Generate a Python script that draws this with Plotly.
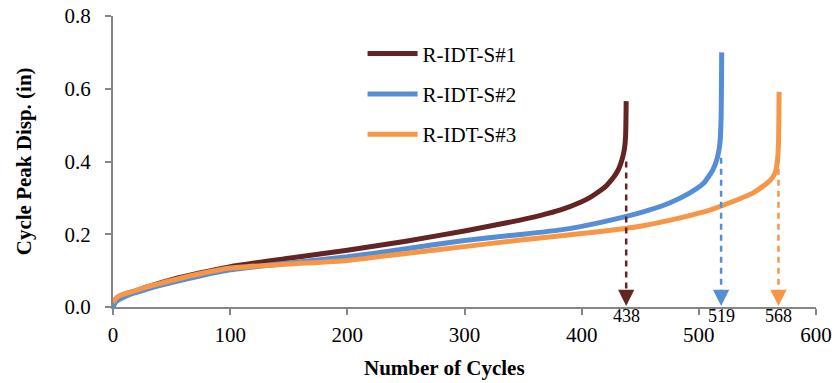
import plotly.graph_objects as go

# ---- data ----
names = ["R-IDT-S#1", "R-IDT-S#2", "R-IDT-S#3"]
colors = ["#632523", "#558ED5", "#F79646"]

s1_x = [0, 2, 5, 10, 15, 20, 30, 50, 75, 100, 150, 200, 250, 300, 340, 365, 382, 399, 408, 416, 421, 424, 428, 431, 433, 435, 436.5, 437.5, 438]
s1_y = [0.005, 0.02, 0.028, 0.035, 0.04, 0.045, 0.056, 0.075, 0.094, 0.111, 0.134, 0.156, 0.181, 0.209, 0.234, 0.252, 0.267, 0.288, 0.303, 0.320, 0.333, 0.344, 0.360, 0.376, 0.391, 0.412, 0.435, 0.470, 0.566]

s2_x = [0, 2, 5, 10, 15, 20, 30, 50, 75, 100, 150, 200, 250, 300, 350, 382, 399, 433, 458, 475, 492, 504, 512, 516, 518, 519, 519.5]
s2_y = [0.0, 0.012, 0.02, 0.028, 0.035, 0.04, 0.05, 0.067, 0.086, 0.102, 0.121, 0.138, 0.160, 0.183, 0.200, 0.212, 0.221, 0.245, 0.267, 0.286, 0.313, 0.340, 0.377, 0.413, 0.450, 0.520, 0.700]

s3_x = [0, 2, 5, 10, 15, 20, 30, 50, 75, 100, 150, 200, 250, 300, 350, 400, 425, 450, 484, 510, 529, 546, 558, 562, 565, 567, 568, 568.5]
s3_y = [0.012, 0.022, 0.03, 0.036, 0.041, 0.046, 0.056, 0.073, 0.092, 0.107, 0.118, 0.128, 0.147, 0.166, 0.185, 0.202, 0.211, 0.222, 0.245, 0.267, 0.290, 0.313, 0.340, 0.352, 0.368, 0.400, 0.450, 0.592]

fail_cycles = [438, 519, 568]
arrow_top = [0.40, 0.41, 0.41]

x_ticks = [0, 100, 200, 300, 400, 500, 600]
y_ticks = [0.0, 0.2, 0.4, 0.6, 0.8]
y_tick_text = ["0.0", "0.2", "0.4", "0.6", "0.8"]

serif = "Liberation Serif"
axis_col = "#868686"

fig = go.Figure()
series = [(s1_x, s1_y), (s2_x, s2_y), (s3_x, s3_y)]
for i, (xs, ys) in enumerate(series):
    fig.add_trace(go.Scatter(
        x=xs, y=ys, mode="lines", name=names[i],
        line=dict(color=colors[i], width=5, shape="spline", smoothing=0.5),
        legendgroup=f"g{i}",
    ))

# dashed failure markers
for i, c in enumerate(fail_cycles):
    fig.add_trace(go.Scatter(
        x=[c, c], y=[arrow_top[i], 0.03], mode="lines",
        line=dict(color=colors[i], width=2.5, dash="6px,5px"),
        showlegend=False, hoverinfo="skip",
    ))
    fig.add_annotation(
        x=c, y=0.003, xref="x", yref="y",
        ax=0, ay=-16, showarrow=True,
        arrowhead=2, arrowsize=1.3, arrowwidth=2.5, arrowcolor=colors[i], text="",
    )
    fig.add_annotation(
        x=c, y=0, xref="x", yref="y", text=str(c), showarrow=False,
        yanchor="top", yshift=3,
        font=dict(family=serif, size=18, color="#000"),
    )

# axis titles as annotations
fig.add_annotation(
    text="<b>Number of Cycles</b>", xref="paper", yref="paper",
    x=0.472, y=-0.21, yanchor="middle", xanchor="center", showarrow=False,
    font=dict(family=serif, size=21, color="#000"),
)
fig.add_annotation(
    text="<b>Cycle Peak Disp. (in)</b>", xref="paper", yref="paper",
    x=-0.127, y=0.5, xanchor="center", yanchor="middle", textangle=-90, showarrow=False,
    font=dict(family=serif, size=21, color="#000"),
)

fig.update_layout(
    width=837, height=383,
    margin=dict(l=113, r=21, t=16, b=76, autoexpand=False),
    plot_bgcolor="white", paper_bgcolor="white",
    font=dict(family=serif, size=20, color="#000"),
    showlegend=True,
    legend=dict(
        x=0.355, y=0.94, xanchor="left", yanchor="top",
        bgcolor="rgba(0,0,0,0)", tracegroupgap=10,
        font=dict(family=serif, size=21, color="#000"),
        itemwidth=50,
    ),
    xaxis=dict(
        range=[0, 600], tickvals=x_ticks, showgrid=False, zeroline=False,
        showline=True, linecolor=axis_col, linewidth=2, automargin=False,
        ticks="outside", ticklen=6, tickwidth=2, tickcolor=axis_col,
        ticklabelstandoff=2, ticklabeloverflow="allow",
        tickfont=dict(family=serif, size=21, color="#000"),
    ),
    yaxis=dict(
        range=[0, 0.8], tickvals=y_ticks, ticktext=y_tick_text, showgrid=False, zeroline=False,
        showline=True, linecolor=axis_col, linewidth=2, automargin=False,
        ticks="outside", ticklen=6, tickwidth=2, tickcolor=axis_col,
        ticklabelstandoff=10, ticklabeloverflow="allow",
        tickfont=dict(family=serif, size=21, color="#000"),
    ),
)

# remove the default 8px page margin so the 837x383 figure fills the window exactly
fig.write_html("out.html", config={"displayModeBar": False},
               post_script="document.body.style.margin='0';")
